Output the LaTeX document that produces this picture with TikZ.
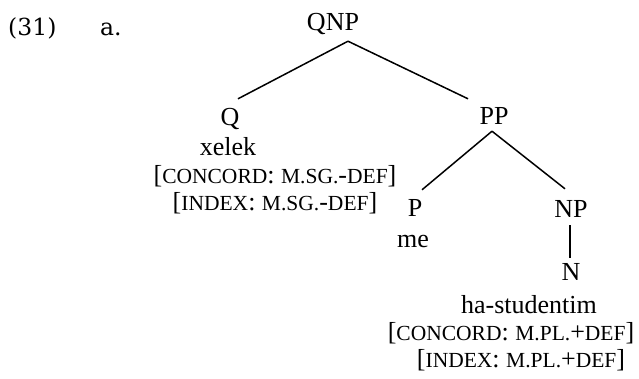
\documentclass[tikz,border=0pt]{standalone}
\usepackage{fontspec}
\setmainfont{Liberation Serif}
\newfontfamily\exfont{DejaVu Serif}
\newcommand\smc[1]{{\fontsize{21.5}{21.5}\selectfont #1}}
\begin{document}
\begin{tikzpicture}[x=1pt,y=-1pt,
  lab/.style={anchor=base,inner sep=0pt,font=\fontsize{26}{26}\selectfont},
  cat/.style={lab,text height=17pt,text depth=0pt},
  exlab/.style={anchor=base west,inner sep=0pt,font=\exfont\fontsize{23.5}{23.5}\selectfont},
  edge/.style={line width=1.5pt}]
\path[use as bounding box,fill=white] (0,0) rectangle (639,378);
\node[exlab] (ex) at (8,35) {(31)};
\node[exlab] (exa) at (100,35) {a.};
\node[cat] (qnp) at (333,30) {QNP};
\node[cat] (q) at (230,125) {Q};
\node[lab] (xelek) at (228,155) {xelek};
\node[lab] (lconc) at (275,183) {[\smc{CONCORD}: \smc{M.SG.}-\smc{DEF}]};
\node[lab] (lidx) at (275,210) {[\smc{INDEX}: \smc{M.SG.}-\smc{DEF}]};
\node[cat] (pp) at (494,124) {PP};
\node[cat] (p) at (415,216) {P};
\node[lab] (me) at (413,247) {me};
\node[cat] (np) at (571,217) {NP};
\node[cat] (n) at (571,280) {N};
\node[lab] (hast) at (529,313) {ha-studentim};
\node[lab] (rconc) at (511,340) {[\smc{CONCORD}: \smc{M.PL.}+\smc{DEF}]};
\node[lab] (ridx) at (521,367) {[\smc{INDEX}: \smc{M.PL.}+\smc{DEF}]};
\draw[edge] ([shift={(15,11)}]qnp.south) -- ([shift={(8,-9)}]q.north);
\draw[edge] ([shift={(15,11)}]qnp.south) -- ([shift={(-26,-8)}]pp.north);
\draw[edge] ([shift={(-2,7)}]pp.south) -- ([shift={(7,-9)}]p.north);
\draw[edge] ([shift={(-2,7)}]pp.south) -- ([shift={(-6,-11)}]np.north);
\draw[edge] ([shift={(-1,8)}]np.south) -- ([shift={(-1,-5)}]n.north);
\end{tikzpicture}
\end{document}
